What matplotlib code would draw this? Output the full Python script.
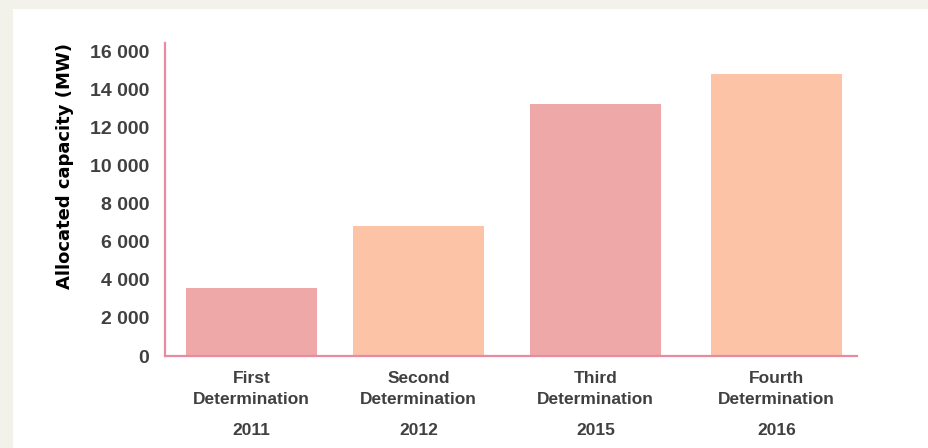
import matplotlib
matplotlib.use("Agg")
import matplotlib.pyplot as plt
from matplotlib import font_manager
from matplotlib.patches import Rectangle

# data
determinations = ["First\nDetermination", "Second\nDetermination",
                  "Third\nDetermination", "Fourth\nDetermination"]
years = ["2011", "2012", "2015", "2016"]
capacity_mw = [3570, 6820, 13220, 14800]
yticks = [0, 2000, 4000, 6000, 8000, 10000, 12000, 14000, 16000]

# layout (bars are not evenly spaced in the original)
xpos = [0, 0.954, 1.966, 3.0]
colors = ["#eea8a8", "#fcc3a6", "#eea8a8", "#fcc3a6"]

names = {f.name for f in font_manager.fontManager.ttflist}
narrow = "Liberation Sans Narrow" if "Liberation Sans Narrow" in names else "Liberation Sans"

fig = plt.figure(figsize=(9.29, 4.48), dpi=100, facecolor="#f2f1ea")
fig.patches.append(Rectangle((13 / 929, 0), 1, (448 - 9) / 448,
                             transform=fig.transFigure, facecolor="white",
                             edgecolor="none", zorder=-10))

ax = fig.add_axes([165 / 929, 92 / 448, 692 / 929, 313 / 448])
ax.patch.set_alpha(0)
ax.bar(xpos, capacity_mw, width=0.749, color=colors, zorder=2)

ax.set_xlim(-0.494, 3.46)
ax.set_ylim(0, 16420)

for side in ["top", "right"]:
    ax.spines[side].set_visible(False)
for side in ["left", "bottom"]:
    ax.spines[side].set_color("#e98aa2")
    ax.spines[side].set_linewidth(1.6)

ax.set_yticks(yticks)
ax.set_yticklabels([f"{v:,}".replace(",", " ") for v in yticks],
                   fontfamily=narrow, fontweight="bold", fontsize=14, color="#404040")
ax.tick_params(axis="y", length=0, pad=11.5)

ax.set_xticks(xpos)
ax.set_xticklabels(determinations, fontfamily=narrow, fontweight="bold",
                   fontsize=12.5, color="#404040", linespacing=1.45)
ax.tick_params(axis="x", length=0, pad=11)

for x, yr in zip(xpos, years):
    ax.annotate(yr, xy=(x, 0), xycoords=("data", "axes fraction"),
                xytext=(0, -53.5), textcoords="offset points",
                ha="center", va="center", fontfamily=narrow,
                fontweight="bold", fontsize=12.5, color="#404040")

ax.set_ylabel("Allocated capacity (MW)", fontfamily="DejaVu Sans",
              fontweight="bold", fontsize=13, color="black")
ax.yaxis.set_label_coords(-91 / 692, 0.607)

fig.savefig("out.png", dpi=100, facecolor=fig.get_facecolor())
